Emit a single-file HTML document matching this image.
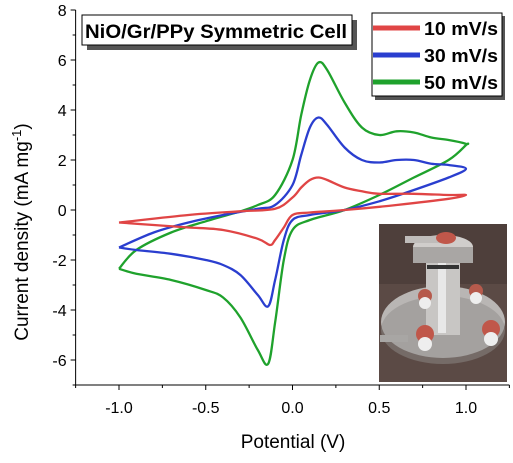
<!DOCTYPE html>
<html><head><meta charset="utf-8"><style>
body{margin:0;background:#fff;}
svg{display:block;font-family:"Liberation Sans",Arial,sans-serif;}
</style></head><body>
<svg id="chart" width="513" height="463" viewBox="0 0 513 463" xmlns="http://www.w3.org/2000/svg">
<g id="axes"></g>
<g id="series"></g>
<g>
 <rect x="379" y="224" width="128" height="158" fill="#5b4a45"/>
 <rect x="379" y="224" width="128" height="60" fill="#4e3f3b"/>
 <ellipse cx="443" cy="322" rx="62" ry="36" fill="#b9b6b4"/>
 <ellipse cx="443" cy="330" rx="62" ry="34" fill="#8f8c8a" opacity="0.5"/>
 <rect x="426" y="255" width="34" height="80" fill="#c8c6c4"/>
 <rect x="438" y="258" width="8" height="75" fill="#e8e8e8"/>
 <ellipse cx="443" cy="247" rx="30" ry="12" fill="#d0cdcb"/>
 <rect x="413" y="247" width="60" height="16" fill="#a9a6a4"/>
 <rect x="405" y="236" width="35" height="7" fill="#bfbcba"/>
 <ellipse cx="446" cy="238" rx="10" ry="6" fill="#c0574a"/>
 <rect x="427" y="265" width="32" height="4" fill="#333"/>
 <rect x="380" y="335" width="28" height="7" fill="#a8a6a4"/>
 <circle cx="425" cy="296" r="7" fill="#b65a4c"/><circle cx="425" cy="303" r="6" fill="#eee"/>
 <circle cx="476" cy="291" r="7" fill="#b65a4c"/><circle cx="476" cy="298" r="6" fill="#eee"/>
 <circle cx="425" cy="334" r="9" fill="#c0574a"/><circle cx="425" cy="344" r="7" fill="#eee"/>
 <circle cx="491" cy="329" r="9" fill="#c0574a"/><circle cx="491" cy="339" r="7" fill="#eee"/>
</g>
<g>
 <rect x="87" y="20" width="270" height="30" fill="#555"/>
 <rect x="82" y="15" width="270" height="30" fill="#fff" stroke="#000" stroke-width="1"/>
 <text x="216" y="38" text-anchor="middle" font-size="19" font-weight="bold" textLength="262" lengthAdjust="spacingAndGlyphs">NiO/Gr/PPy Symmetric Cell</text>
</g>
<g>
 <rect x="375" y="16" width="130" height="84" fill="#555"/>
 <rect x="372" y="13" width="130" height="83" fill="#fff" stroke="#000" stroke-width="1"/>
 <line x1="373" y1="28" x2="420" y2="28" stroke="#e04545" stroke-width="5"/>
 <text x="424" y="35" font-size="18" font-weight="bold" textLength="74" lengthAdjust="spacingAndGlyphs">10 mV/s</text>
 <line x1="373" y1="55" x2="420" y2="55" stroke="#2a3ecf" stroke-width="5"/>
 <text x="424" y="62" font-size="18" font-weight="bold" textLength="74" lengthAdjust="spacingAndGlyphs">30 mV/s</text>
 <line x1="373" y1="82" x2="420" y2="82" stroke="#1fa22c" stroke-width="5"/>
 <text x="424" y="89" font-size="18" font-weight="bold" textLength="74" lengthAdjust="spacingAndGlyphs">50 mV/s</text>
</g>
<text x="293" y="448" text-anchor="middle" font-size="19">Potential (V)</text>
<text transform="translate(28,232) rotate(-90)" text-anchor="middle" font-size="19">Current density (mA mg<tspan dy="-7" font-size="13">-1</tspan><tspan dy="7">)</tspan></text>
</svg>
<script>
const xTicks=[-1.0,-0.5,0.0,0.5,1.0];
const xTickLabels=["-1.0","-0.5","0.0","0.5","1.0"];
const yTicks=[-6,-4,-2,0,2,4,6,8];
const yTickLabels=["-6","-4","-2","0","2","4","6","8"];
const seriesNames=["10 mV/s","30 mV/s","50 mV/s"];
const pot10=[-1,-0.6,-0.3,-0.1,0,0.05,0.1,0.15,0.2,0.3,0.4,0.5,0.7,0.9,1,0.9,0.6,0.3,0.1,0,-0.05,-0.1,-0.13,-0.2,-0.4,-0.6,-0.8,-1];
const cur10=[-0.5,-0.2,-0.05,0.05,0.5,0.9,1.2,1.3,1.2,0.9,0.75,0.65,0.65,0.6,0.6,0.45,0.2,0,-0.1,-0.2,-0.7,-1.2,-1.4,-1.15,-0.8,-0.7,-0.6,-0.5];
const pot30=[-1,-0.8,-0.6,-0.4,-0.2,-0.1,0,0.05,0.1,0.15,0.2,0.3,0.4,0.5,0.6,0.7,0.8,0.9,1,0.9,0.7,0.5,0.3,0.1,0,-0.05,-0.1,-0.14,-0.2,-0.3,-0.4,-0.5,-0.7,-0.9,-1];
const cur30=[-1.5,-0.9,-0.5,-0.2,0.05,0.2,1.0,2.2,3.3,3.7,3.4,2.5,2.0,1.9,2.0,2.0,1.85,1.8,1.65,1.3,0.8,0.35,0,-0.2,-0.4,-1.2,-2.8,-3.85,-3.4,-2.6,-2.2,-2.0,-1.75,-1.6,-1.5];
const pot50=[-1,-0.9,-0.7,-0.5,-0.3,-0.2,-0.1,0,0.05,0.1,0.15,0.2,0.3,0.4,0.5,0.6,0.7,0.8,0.9,1,1,0.9,0.7,0.5,0.3,0.1,0,-0.05,-0.1,-0.14,-0.2,-0.3,-0.4,-0.5,-0.7,-0.9,-1];
const cur50=[-2.35,-1.6,-0.9,-0.45,-0.05,0.2,0.6,2.0,3.8,5.2,5.9,5.6,4.3,3.3,3.0,3.15,3.1,2.9,2.8,2.65,2.6,2.0,1.3,0.6,0,-0.4,-0.8,-2.0,-4.5,-6.15,-5.6,-4.3,-3.5,-3.2,-2.8,-2.55,-2.35];

const X=v=>292.5+v*173.5;
const Y=v=>210-v*25;
const NS="http://www.w3.org/2000/svg";
const axes=document.getElementById('axes');
function mk(tag,attrs,parent){const e=document.createElementNS(NS,tag);for(const k in attrs)e.setAttribute(k,attrs[k]);parent.appendChild(e);return e;}
const frame=mk('path',{d:`M${X(-1.25)},${Y(8)} V${Y(-7)} H${X(1.25)}`,fill:'none',stroke:'#000','stroke-width':1},axes);


xTicks.forEach((t,i)=>{
 const l=mk('line',{x1:X(t),x2:X(t),y1:Y(-7),y2:Y(-7)+5,stroke:'#000'},axes);
 
 
 const m=mk('line',{x1:X(t+0.25),x2:X(t+0.25),y1:Y(-7),y2:Y(-7)+3,stroke:'#000'},axes);
 
 
 const tx=mk('text',{x:X(t),y:Y(-7)+28,'text-anchor':'middle','font-size':16},axes);
 tx.textContent=xTickLabels[i];
 
 
});
const m0=mk('line',{x1:X(-1.25),x2:X(-1.25),y1:Y(-7),y2:Y(-7)+3,stroke:'#000'},axes);


yTicks.forEach((t,i)=>{
 const l=mk('line',{x1:X(-1.25)-5,x2:X(-1.25),y1:Y(t),y2:Y(t),stroke:'#000'},axes);
 
 
 const m=mk('line',{x1:X(-1.25)-3,x2:X(-1.25),y1:Y(t-1),y2:Y(t-1),stroke:'#000'},axes);
 
 
 const tx=mk('text',{x:X(-1.25)-9,y:Y(t)+6,'text-anchor':'end','font-size':16},axes);
 tx.textContent=yTickLabels[i];
 
 
});
const ser=document.getElementById('series');
function draw(p,c,color,name){
 const pts=p.map((v,i)=>[X(v),Y(c[i])]);
 let d='M'+pts[0][0].toFixed(1)+','+pts[0][1].toFixed(1);
 for(let i=0;i<pts.length-1;i++){
  const p0=pts[Math.max(0,i-1)],p1=pts[i],p2=pts[i+1],p3=pts[Math.min(pts.length-1,i+2)];
  const t=1/6;
  const c1=[p1[0]+(p2[0]-p0[0])*t,p1[1]+(p2[1]-p0[1])*t];
  const c2=[p2[0]-(p3[0]-p1[0])*t,p2[1]-(p3[1]-p1[1])*t];
  d+=` C${c1[0].toFixed(1)},${c1[1].toFixed(1)} ${c2[0].toFixed(1)},${c2[1].toFixed(1)} ${p2[0].toFixed(1)},${p2[1].toFixed(1)}`;
 }
 const e=mk('path',{d:d,fill:'none',stroke:color,'stroke-width':2.3,'stroke-linejoin':'round'},ser);
 
 
}
draw(pot50,cur50,'#1fa22c','cv-curve-50mvs');
draw(pot30,cur30,'#2a3ecf','cv-curve-30mvs');
draw(pot10,cur10,'#e04545','cv-curve-10mvs');
</script>
</body></html>
